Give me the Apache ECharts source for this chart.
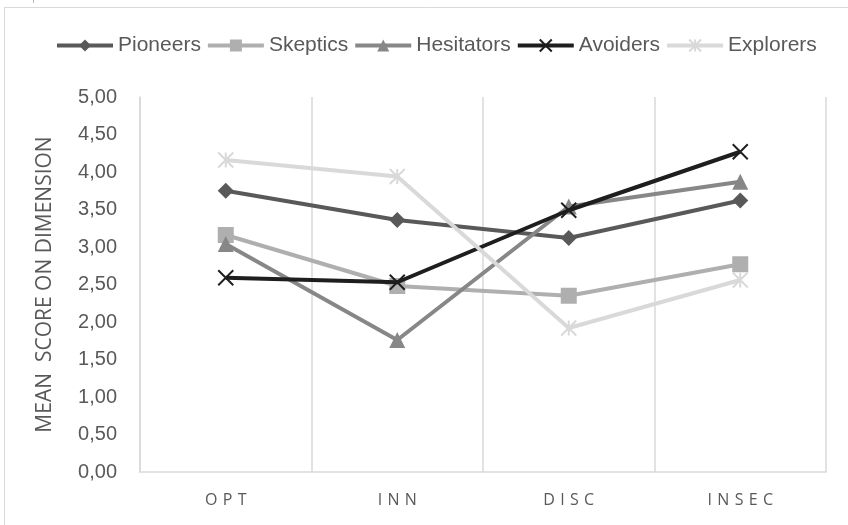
<!DOCTYPE html>
<html>
<head>
<meta charset="utf-8">
<script src="https://cdn.jsdelivr.net/npm/echarts@6/dist/echarts.min.js"></script>
<style>html,body{margin:0;padding:0;background:#fff}#c{width:848px;height:525px}</style>
</head>
<body>
<div id="c"></div>
<script>
const categories = ['OPT', 'INN', 'DISC', 'INSEC'];
const pioneers   = [3.75, 3.36, 3.12, 3.62];
const skeptics   = [3.16, 2.48, 2.35, 2.77];
const hesitators = [3.04, 1.76, 3.54, 3.87];
const avoiders   = [2.59, 2.53, 3.49, 4.27];
const explorers  = [4.16, 3.94, 1.92, 2.56];
const yAxisTitle = 'MEAN  SCORE ON DIMENSION';

const TXT = '#595959';
const GRID = '#d9d9d9';
const crossPath = 'path://M0,0L10,10M10,0L0,10';
const starPath = 'path://M0,0L10,10M10,0L0,10M5,0L5,10';

function mk(name, data, color, symbol, size, stroke) {
  return {
    name, type: 'line', data, symbol, symbolSize: size,
    lineStyle: { color, width: 4 },
    itemStyle: stroke ? { color, borderColor: color, borderWidth: 2 } : { color, borderWidth: 0 },
    emphasis: { disabled: true },
    z: stroke ? 3 : 2
  };
}

const chart = echarts.init(document.getElementById('c'), null, { renderer: 'canvas' });
chart.setOption({
  animation: false,
  backgroundColor: '#fff',
  graphic: [
    { type: 'rect', shape: { x: 4.5, y: 7.5, width: 900, height: 600 }, style: { stroke: GRID, fill: null, lineWidth: 1 }, silent: true },
    { type: 'line', shape: { x1: 33.5, y1: 0, x2: 33.5, y2: 3 }, style: { stroke: '#bbbbbb', lineWidth: 1 }, silent: true }
  ],
  legend: {
    left: 55, top: 35, padding: 0,
    itemWidth: 56, itemHeight: 15, itemGap: 5,
    lineStyle: { width: 4 },
    textStyle: { color: TXT, fontSize: 21, fontFamily: 'Liberation Sans' },
    data: ['Pioneers', 'Skeptics', 'Hesitators', 'Avoiders', 'Explorers']
  },
  grid: { left: 140, right: 22, top: 97, bottom: 53 },
  xAxis: {
    type: 'category', data: categories, boundaryGap: true,
    axisLine: { lineStyle: { color: GRID, width: 1.5 } },
    axisTick: { show: false },
    splitLine: { show: true, lineStyle: { color: GRID, width: 1.5 } },
    axisLabel: {
      color: TXT, fontSize: 16, fontFamily: 'Open Sans', margin: 20,
      formatter: v => v.split('').join('\u2009\u2009')
    }
  },
  yAxis: {
    type: 'value', min: 0, max: 5, interval: 0.5,
    name: yAxisTitle, nameLocation: 'middle', nameGap: 84, nameRotate: 90,
    nameTextStyle: { color: TXT, fontSize: 21, fontFamily: 'Open Sans' },
    axisLine: { show: true, lineStyle: { color: GRID, width: 1.5 } },
    axisTick: { show: false },
    splitLine: { show: false },
    axisLabel: {
      color: TXT, fontSize: 20, fontFamily: 'Liberation Sans', margin: 23,
      formatter: v => v.toFixed(2).replace('.', ',')
    }
  },
  series: [
    mk('Pioneers', pioneers, '#595959', 'diamond', 16, false),
    mk('Skeptics', skeptics, '#afafaf', 'rect', 16, false),
    mk('Hesitators', hesitators, '#878787', 'triangle', 16, false),
    mk('Avoiders', avoiders, '#1e1e1e', crossPath, 15, true),
    mk('Explorers', explorers, '#d9d9d9', starPath, 15, true)
  ]
});
</script>
</body>
</html>
